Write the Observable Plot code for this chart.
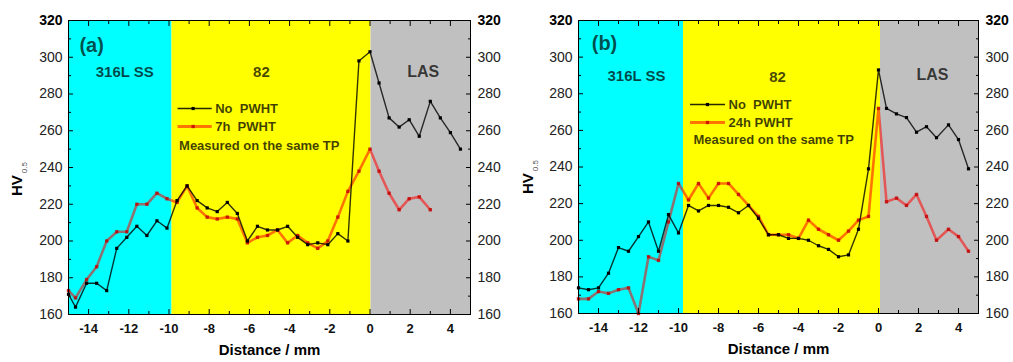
<!DOCTYPE html>
<html><head><meta charset="utf-8">
<script src="https://cdn.jsdelivr.net/npm/d3@7"></script>
<script src="https://cdn.jsdelivr.net/npm/@observablehq/plot@0.6"></script>
<style>
body{margin:0;background:#fff;}
#wrap{display:flex;width:1013px;height:362px;overflow:hidden;}
g[aria-label="legendtext"] text{letter-spacing:0.6px;}
</style></head><body><div id="wrap"></div>
<script>
// ---------- data: panel (a) ----------
const distA = [-15,-14.65,-14.1,-13.6,-13.1,-12.6,-12.1,-11.6,-11.1,-10.6,-10.1,-9.6,-9.1,-8.6,-8.1,-7.6,-7.1,-6.6,-6.1,-5.6,-5.1,-4.6,-4.1,-3.6,-3.1,-2.6,-2.1,-1.6,-1.1,-0.55,0,0.45,0.95,1.45,1.95,2.45,3,3.5,4,4.5];
const noPWHT_A = [171,164,177,177,173,196,202,208,203,211,207,222,230,222,218,216,221,215,200,208,206,206,208,202,198,199,198,204,200,298,303,286,267,262,266,257,276,267,259,250];
const pwht7h_A = [173,169,179,186,200,205,205,220,220,226,223,221,230,218,213,212,213,212,199,202,203,206,199,203,199,196,200,213,227,238,250,238,226,217,223,224,217];
const zoneEdgesA = [-15,-9.85,0.05,5];

// ---------- data: panel (b) ----------
const distB = [-15,-14.5,-14,-13.5,-13,-12.5,-12,-11.5,-11,-10.5,-10,-9.5,-9,-8.5,-8,-7.5,-7,-6.5,-6,-5.5,-5,-4.5,-4,-3.5,-3,-2.5,-2,-1.5,-1,-0.5,0,0.4,0.9,1.4,1.9,2.4,2.9,3.5,4,4.5];
const noPWHT_B = [174,173,174,182,196,194,202,210,194,214,204,219,216,219,219,218,215,219,212,203,203,201,201,200,197,195,191,192,206,239,293,272,269,267,259,262,256,263,255,239];
const pwht24h_B = [168,168,172,171,173,174,160,191,189,210,231,222,231,223,231,231,225,219,213,203,203,203,201,211,206,203,200,205,211,213,272,221,223,219,225,213,200,206,202,194];
const zoneEdgesB = [-15,-9.75,0.1,5];

const zoneNames = ["316L SS","82","LAS"];
const xTicksMajor = [-14,-12,-10,-8,-6,-4,-2,0,2,4];
const xTicksMinor = [-15,-13,-11,-9,-7,-5,-3,-1,1,3,5];
const yTicksMajor = [160,180,200,220,240,260,280,300,320];
const yTicksMinor = [170,190,210,230,250,270,290,310];

// ---------- styles / layout ----------
const FONT = "Liberation Sans, Arial, Helvetica, sans-serif";
const zoneColors = ["#00ffff","#ffff00","#c0c0c0"];
const fmtX = d => d < 0 ? "-" + Math.abs(d) : String(d);

function pts(xs, ys){ return ys.map((v,i)=>({x:xs[i], y:v})); }

function panel(cfg){
  const zones = cfg.edges.slice(0,-1).map((e,i)=>({x1:e, x2:cfg.edges[i+1], i}));
  const black = pts(cfg.dist, cfg.black);
  const red = pts(cfg.dist, cfg.red);
  const L = cfg.layout;
  const zoneText = zoneNames.map((t,i)=>({t, x:L.zones[i][0], y:L.zones[i][1], s:L.zones[i][2]}));
  const marks = [
    ...zones.map(z => Plot.rect([z], {x1:"x1", x2:"x2", y1:()=>160, y2:()=>320, fill: zoneColors[z.i]})),
    Plot.line(red, {x:"x", y:"y", stroke:"#ff0000", strokeOpacity:0.55, strokeWidth:2.6}),
    Plot.dot(red, {x:"x", y:"y", symbol:"square", r:1.9, fill:"#c00000", fillOpacity:0.8}),
    Plot.line(black, {x:"x", y:"y", stroke:"#000", strokeOpacity:0.8, strokeWidth:1.4}),
    Plot.dot(black, {x:"x", y:"y", symbol:"square", r:1.8, fill:"#000"}),
    Plot.frame({stroke:"#000", strokeWidth:1}),
    // inner ticks
    Plot.axisX(xTicksMajor, {anchor:"bottom", tickSize:-5, fill:"none", stroke:"#000"}),
    Plot.axisX(xTicksMinor, {anchor:"bottom", tickSize:-3, fill:"none", stroke:"#000"}),
    Plot.axisX(xTicksMajor, {anchor:"top", tickSize:-5, fill:"none", stroke:"#000"}),
    Plot.axisX(xTicksMinor, {anchor:"top", tickSize:-3, fill:"none", stroke:"#000"}),
    Plot.axisY(yTicksMajor, {anchor:"left", tickSize:-5, fill:"none", stroke:"#000"}),
    Plot.axisY(yTicksMinor, {anchor:"left", tickSize:-3, fill:"none", stroke:"#000"}),
    Plot.axisY(yTicksMajor, {anchor:"right", tickSize:-5, fill:"none", stroke:"#000"}),
    Plot.axisY(yTicksMinor, {anchor:"right", tickSize:-3, fill:"none", stroke:"#000"}),
    // tick labels
    Plot.axisX(xTicksMajor, {anchor:"bottom", tickSize:0, tickPadding:9, fontSize:13, fontWeight:"bold", fill:"#111", label:null, tickFormat:fmtX}),
    Plot.axisY(yTicksMajor.filter(d=>d<320), {anchor:"left", tickSize:0, tickPadding:6, fontSize:14, fill:"#222", label:null}),
    Plot.axisY([320], {anchor:"left", tickSize:0, tickPadding:6, fontSize:14, fontWeight:"bold", fill:"#000", label:null}),
    Plot.axisY(yTicksMajor.filter(d=>d<320), {anchor:"right", tickSize:0, tickPadding:7, fontSize:14, fill:"#222", label:null}),
    Plot.axisY([320], {anchor:"right", tickSize:0, tickPadding:7, fontSize:14, fontWeight:"bold", fill:"#000", label:null}),
    // x title
    Plot.text(["Distance / mm"], {frameAnchor:"bottom", dy:40, fontSize:15, fontWeight:"bold", fill:"#000"}),
    // annotations
    Plot.text([cfg.tag], {x:()=>L.tag[0], y:()=>L.tag[1], fontSize:20, fontWeight:"bold", fill:"#000", fillOpacity:0.7}),
    Plot.text(zoneText, {x:"x", y:"y", text:"t", fontSize:d=>d.s, fontWeight:"bold", fill:"#000", fillOpacity:0.72}),
    // legend
    Plot.ruleY([L.legY[0]], {x1:()=>L.legX[0], x2:()=>L.legX[1], stroke:"#000", strokeWidth:1.4, strokeOpacity:0.85}),
    Plot.dot([L.legY[0]], {x:()=>L.legX[2], y:d=>d, symbol:"square", r:1.8, fill:"#000"}),
    Plot.ruleY([L.legY[1]], {x1:()=>L.legX[0], x2:()=>L.legX[1], stroke:"#ff0000", strokeWidth:2.8, strokeOpacity:0.55}),
    Plot.dot([L.legY[1]], {x:()=>L.legX[2], y:d=>d, symbol:"square", r:1.9, fill:"#c00000", fillOpacity:0.8}),
    Plot.text(cfg.legendLabels.map((t,i)=>({t, y:L.legY[i]})), {x:()=>L.legX[3], y:"y", text:"t", textAnchor:"start", fontSize:13, fontWeight:"bold", fill:"#000", fillOpacity:0.75, ariaLabel:"legendtext"}),
    Plot.text(["Measured on the same TP"], {x:()=>L.meas[0], y:()=>L.meas[1], textAnchor:"start", fontSize:13, fontWeight:"bold", fill:"#000", fillOpacity:0.75, ariaLabel:"legendtext"})
  ];
  const svg = Plot.plot({
    width: cfg.W, height: 362,
    marginLeft: cfg.ml, marginRight: cfg.mr, marginTop: 20, marginBottom: cfg.mb,
    x: {domain:[-15,5]},
    y: {domain:[160,320]},
    style: {fontFamily: FONT, background:"#fff", overflow:"visible"},
    marks
  });
  const t = d3.select(svg).append("text")
    .attr("transform", `translate(${cfg.hv[0]},${cfg.hv[1]}) rotate(-90)`)
    .attr("font-family", FONT).attr("text-anchor","start").attr("fill","#000");
  t.append("tspan").attr("font-size", 15).attr("font-weight","bold").text("HV");
  t.append("tspan").attr("font-size", 8).attr("fill","#555").attr("dy", 5).attr("dx", 2).text("0.5");
  return svg;
}

const wrap = document.getElementById("wrap");
wrap.appendChild(panel({
  W:506, ml:68, mr:36, mb:48, hv:[22,196],
  dist: distA, black: noPWHT_A, red: pwht7h_A, edges: zoneEdgesA,
  tag:"(a)", legendLabels:["No\u00a0 PWHT","7h\u00a0 PWHT"],
  layout:{ tag:[-13.85,306.4], zones:[[-12.2,291.7,15],[-5.4,291.7,15],[2.65,292.2,16]],
           legY:[272.1,262.3], legX:[-9.55,-7.85,-8.8,-7.7], meas:[-9.5,252] }
}));
wrap.appendChild(panel({
  W:507, ml:72, mr:35, mb:49, hv:[27,194],
  dist: distB, black: noPWHT_B, red: pwht24h_B, edges: zoneEdgesB,
  tag:"(b)", legendLabels:["No\u00a0 PWHT","24h PWHT"],
  layout:{ tag:[-13.7,307.4], zones:[[-12.1,289.4,15],[-5.05,288.9,15],[2.7,290.5,16]],
           legY:[274.1,264.3], legX:[-9.4,-7.65,-8.55,-7.5], meas:[-9.25,255] }
}));
</script></body></html>
